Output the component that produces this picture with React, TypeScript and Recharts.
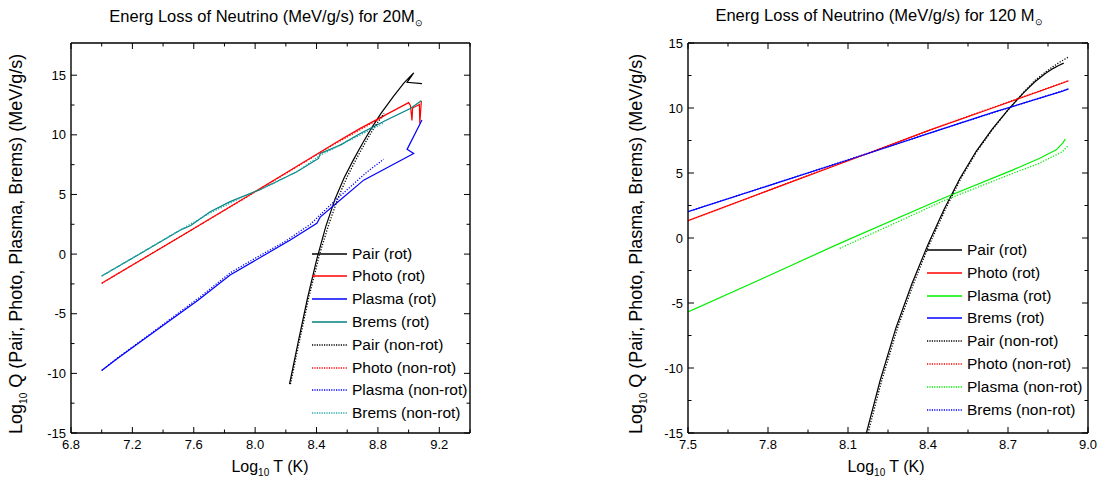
import React from "react"
import { Line, LineChart, XAxis, YAxis } from "recharts"

const FONT = '"Liberation Sans", Arial, Helvetica, sans-serif'

// ---- 20 Msun panel ----
const xTicks20 = [6.8, 7.0, 7.2, 7.4, 7.6, 7.8, 8.0, 8.2, 8.4, 8.6, 8.8, 9.0, 9.2, 9.4]
const xMajor20 = [6.8, 7.2, 7.6, 8.0, 8.4, 8.8, 9.2]
const yTicks20 = [-15, -12.5, -10, -7.5, -5, -2.5, 0, 2.5, 5, 7.5, 10, 12.5, 15]
const yMajor20 = [-15, -10, -5, 0, 5, 10, 15]

const pairRotT20 = [8.224, 8.28, 8.34, 8.4, 8.46, 8.52, 8.58, 8.64, 8.7, 8.76, 8.82, 8.9, 8.97, 9.033, 8.99, 9.087]
const pairRotQ20 = [-10.9, -7.4, -3.75, -0.5, 2.3, 4.6, 6.4, 7.9, 9.3, 10.6, 11.8, 13.2, 14.35, 15.2, 14.4, 14.3]
const photoRotT20 = [7.0, 7.511, 7.837, 8.2, 8.554, 8.685, 9.0, 9.012, 9.022, 9.026, 9.07, 9.073, 9.083]
const photoRotQ20 = [-2.45, 1.46, 3.97, 6.8, 9.56, 10.54, 12.7, 12.45, 11.2, 12.25, 12.55, 10.95, 12.85]
const plasmaRotT20 = [7.0, 7.098, 7.3, 7.63, 7.837, 8.229, 8.402, 8.424, 8.533, 8.707, 9.033, 8.99, 9.087]
const plasmaRotQ20 = [-9.76, -8.8, -6.9, -3.84, -1.75, 1.18, 2.58, 3.1, 4.3, 6.2, 8.44, 8.78, 11.25]
const bremsRotT20 = [7.0, 7.3, 7.511, 7.58, 7.707, 7.837, 8.03, 8.272, 8.413, 8.424, 8.554, 8.685, 8.85, 9.011, 9.083]
const bremsRotQ20 = [-1.83, 0.4, 2.0, 2.4, 3.55, 4.4, 5.4, 6.9, 8.02, 8.44, 9.14, 10.12, 11.2, 12.2, 12.85]
const pairNonT20 = [8.23, 8.29, 8.35, 8.42, 8.48, 8.54, 8.6, 8.66, 8.72, 8.78, 8.84]
const pairNonQ20 = [-10.9, -7.2, -3.6, 0, 2.5, 4.7, 6.5, 8.0, 9.4, 10.7, 11.8]
const photoNonT20 = [7.0, 7.5, 8.0, 8.5, 8.84]
const photoNonQ20 = [-2.45, 1.38, 5.2, 9.1, 11.55]
const plasmaNonT20 = [7.0, 7.098, 7.3, 7.63, 7.84, 8.0, 8.2, 8.36, 8.53, 8.73, 8.837]
const plasmaNonQ20 = [-9.76, -8.75, -6.85, -3.7, -1.55, -0.35, 1.1, 2.5, 4.6, 6.9, 7.95]
const bremsNonT20 = [7.0, 7.5, 7.7, 7.9, 8.1, 8.283, 8.42, 8.6, 8.84]
const bremsNonQ20 = [-1.85, 1.95, 3.4, 4.67, 5.8, 7.0, 8.25, 9.45, 11.0]

// ---- 120 Msun panel ----
const xTicks120 = [7.5, 7.65, 7.8, 7.95, 8.1, 8.25, 8.4, 8.55, 8.7, 8.85, 9.0]
const xMajor120 = [7.5, 7.8, 8.1, 8.4, 8.7, 9.0]
const yTicks120 = [-15, -12.5, -10, -7.5, -5, -2.5, 0, 2.5, 5, 7.5, 10, 12.5, 15]
const yMajor120 = [-15, -10, -5, 0, 5, 10, 15]

const pairRotT120 = [8.169, 8.22, 8.28, 8.34, 8.4, 8.46, 8.52, 8.58, 8.64, 8.7, 8.76, 8.8, 8.84, 8.87, 8.89, 8.909]
const pairRotQ120 = [-15, -11.0, -6.9, -3.5, -0.5, 2.2, 4.6, 6.65, 8.35, 9.85, 11.2, 12.0, 12.65, 13.05, 13.27, 13.45]
const photoRotT120 = [7.5, 7.8, 8.161, 8.406, 8.65, 8.905, 8.927]
const photoRotQ120 = [1.33, 3.64, 6.4, 8.3, 10.06, 11.92, 12.1]
const plasmaRotT120 = [7.5, 7.794, 8.069, 8.457, 8.719, 8.819, 8.881, 8.905, 8.915]
const plasmaRotQ120 = [-5.68, -2.98, -0.41, 3.06, 5.24, 6.14, 6.78, 7.3, 7.6]
const bremsRotT120 = [7.5, 7.8, 8.161, 8.406, 8.65, 8.905, 8.927]
const bremsRotQ120 = [2.03, 4.01, 6.4, 8.07, 9.7, 11.3, 11.47]
const pairNonT120 = [8.175, 8.226, 8.286, 8.346, 8.405, 8.465, 8.524, 8.583, 8.642, 8.7, 8.76, 8.8, 8.84, 8.87, 8.9, 8.927]
const pairNonQ120 = [-15, -11.0, -6.9, -3.5, -0.5, 2.2, 4.6, 6.65, 8.35, 9.85, 11.25, 12.1, 12.75, 13.2, 13.6, 13.92]
const photoNonT120 = [7.5, 8.0, 8.5, 8.927]
const photoNonQ120 = [1.33, 5.2, 9.0, 12.1]
const plasmaNonT120 = [8.069, 8.457, 8.719, 8.819, 8.905, 8.925]
const plasmaNonQ120 = [-0.8, 2.85, 4.98, 5.76, 6.65, 7.1]
const bremsNonT120 = [7.5, 8.0, 8.5, 8.927]
const bremsNonQ120 = [2.03, 5.35, 8.7, 11.47]

type Series = { name: string; t: number[]; q: number[]; color: string; dotted: boolean }

const series20: Series[] = [
    { name: "Pair (rot)", t: pairRotT20, q: pairRotQ20, color: "#000000", dotted: false },
    { name: "Photo (rot)", t: photoRotT20, q: photoRotQ20, color: "#ff0000", dotted: false },
    { name: "Plasma (rot)", t: plasmaRotT20, q: plasmaRotQ20, color: "#0000ff", dotted: false },
    { name: "Brems (rot)", t: bremsRotT20, q: bremsRotQ20, color: "#008080", dotted: false },
    { name: "Pair (non-rot)", t: pairNonT20, q: pairNonQ20, color: "#000000", dotted: true },
    { name: "Photo (non-rot)", t: photoNonT20, q: photoNonQ20, color: "#ff0000", dotted: true },
    { name: "Plasma (non-rot)", t: plasmaNonT20, q: plasmaNonQ20, color: "#0000ff", dotted: true },
    { name: "Brems (non-rot)", t: bremsNonT20, q: bremsNonQ20, color: "#20a8a8", dotted: true },
]

const series120: Series[] = [
    { name: "Pair (rot)", t: pairRotT120, q: pairRotQ120, color: "#000000", dotted: false },
    { name: "Photo (rot)", t: photoRotT120, q: photoRotQ120, color: "#ff0000", dotted: false },
    { name: "Plasma (rot)", t: plasmaRotT120, q: plasmaRotQ120, color: "#00ee00", dotted: false },
    { name: "Brems (rot)", t: bremsRotT120, q: bremsRotQ120, color: "#0000ff", dotted: false },
    { name: "Pair (non-rot)", t: pairNonT120, q: pairNonQ120, color: "#000000", dotted: true },
    { name: "Photo (non-rot)", t: photoNonT120, q: photoNonQ120, color: "#ff0000", dotted: true },
    { name: "Plasma (non-rot)", t: plasmaNonT120, q: plasmaNonQ120, color: "#00ee00", dotted: true },
    { name: "Brems (non-rot)", t: bremsNonT120, q: bremsNonQ120, color: "#0000ff", dotted: true },
]

const toRows = (t: number[], q: number[]) => t.map((v, i) => ({ t: v, q: q[i] }))
const isMajor = (majors: number[], v: number) => majors.some((m) => Math.abs(m - v) < 1e-6)

// ticks point inward, like Origin
function makeTick(side: string, majors: number[], fmt: (v: number) => string) {
    return (p: any) => {
        const { x, y, payload } = p
        const big = isMajor(majors, payload.value)
        const len = big ? 6 : 3.5
        const s = { stroke: "#000", strokeWidth: 1 }
        if (side === "bottom")
            return (
                <g>
                    <line x1={x} x2={x} y1={y} y2={y - len} {...s} />
                    {big && <text x={x} y={y + 16} textAnchor="middle" fontSize={13} fill="#000">{fmt(payload.value)}</text>}
                </g>
            )
        if (side === "top") return <line x1={x} x2={x} y1={y} y2={y + len} {...s} />
        if (side === "left")
            return (
                <g>
                    <line x1={x} x2={x + len} y1={y} y2={y} {...s} />
                    {big && <text x={x - 5} y={y + 4.5} textAnchor="end" fontSize={13} fill="#000">{fmt(payload.value)}</text>}
                </g>
            )
        return <line x1={x} x2={x - len} y1={y} y2={y} {...s} />
    }
}

type PanelProps = {
    left: number
    width: number
    margin: { top: number; right: number; bottom: number; left: number }
    xDomain: [number, number]
    yDomain: [number, number]
    xTicks: number[]
    xMajor: number[]
    yTicks: number[]
    yMajor: number[]
    series: Series[]
}

function Panel(props: PanelProps) {
    const { left, width, margin, xDomain, yDomain, xTicks, xMajor, yTicks, yMajor, series } = props
    const fx = (v: number) => v.toFixed(1)
    const fy = (v: number) => String(v)
    const axisLine = { stroke: "#000", strokeWidth: 1.4 }
    return (
        <div style={{ position: "absolute", left, top: 0 }}>
            <LineChart width={width} height={484} margin={margin} style={{ fontFamily: FONT }}>
                <XAxis xAxisId="b" dataKey="t" type="number" orientation="bottom" domain={xDomain} ticks={xTicks}
                    allowDataOverflow interval={0} height={30} tickSize={0} tickMargin={0} tickLine={false}
                    axisLine={axisLine} tick={makeTick("bottom", xMajor, fx)} />
                <XAxis xAxisId="t" dataKey="t" type="number" orientation="top" domain={xDomain} ticks={xTicks}
                    allowDataOverflow interval={0} height={10} tickSize={0} tickMargin={0} tickLine={false}
                    axisLine={axisLine} tick={makeTick("top", xMajor, fx)} />
                <YAxis yAxisId="l" type="number" orientation="left" domain={yDomain} ticks={yTicks}
                    allowDataOverflow interval={0} width={40} tickSize={0} tickMargin={0} tickLine={false}
                    axisLine={axisLine} tick={makeTick("left", yMajor, fy)} />
                <YAxis yAxisId="r" type="number" orientation="right" domain={yDomain} ticks={yTicks}
                    allowDataOverflow interval={0} width={10} tickSize={0} tickMargin={0} tickLine={false}
                    axisLine={axisLine} tick={makeTick("right", yMajor, fy)} />
                {series.map((s) => (
                    <Line key={s.name} xAxisId="b" yAxisId="l" data={toRows(s.t, s.q)} dataKey="q" type="linear"
                        stroke={s.color} strokeWidth={s.dotted ? 1.3 : 1.2} strokeDasharray={s.dotted ? "1.2 1.6" : undefined}
                        dot={false} activeDot={false} isAnimationActive={false} />
                ))}
            </LineChart>
        </div>
    )
}

function Legend({ x, y, series }: { x: number; y: number; series: Series[] }) {
    return (
        <div style={{ position: "absolute", left: x, top: y - 11.4 }}>
            {series.map((s) => (
                <div key={s.name} style={{ height: 22.8, display: "flex", alignItems: "center", fontSize: 15.5 }}>
                    <svg width={35} height={22} style={{ marginRight: 5 }}>
                        <line x1={0} x2={35} y1={11} y2={11} stroke={s.color} strokeWidth={1.3}
                            strokeDasharray={s.dotted ? "1.2 1.2" : undefined} />
                    </svg>
                    <span>{s.name}</span>
                </div>
            ))}
        </div>
    )
}

function Title({ cx, cy, size, children }: { cx: number; cy: number; size: number; children: React.ReactNode }) {
    return (
        <div style={{ position: "absolute", left: cx - 250, top: cy - 10, width: 500, lineHeight: "20px", textAlign: "center", fontSize: size, whiteSpace: "nowrap" }}>
            {children}
        </div>
    )
}

function YLabel({ cx, cy }: { cx: number; cy: number }) {
    return (
        <div style={{ position: "absolute", left: cx - 250, top: cy - 11, width: 500, lineHeight: "22px", textAlign: "center", fontSize: 18, whiteSpace: "nowrap", transform: "rotate(-90deg)" }}>
            Log<sub style={{ fontSize: 10 }}>10</sub> Q (Pair, Photo, Plasma, Brems) (MeV/g/s)
        </div>
    )
}

const sun = <sub style={{ fontSize: 9 }}>⊙</sub>

export default function App() {
    return (
        <div style={{ position: "absolute", left: 0, top: 0, width: 1109, height: 484, background: "#fff", fontFamily: FONT, color: "#000", overflow: "hidden" }}>
            <Panel left={0} width={550} margin={{ top: 33, right: 70, bottom: 21, left: 31 }}
                xDomain={[6.8, 9.4]} yDomain={[-15, 17.7]} xTicks={xTicks20} xMajor={xMajor20}
                yTicks={yTicks20} yMajor={yMajor20} series={series20} />
            <Panel left={550} width={559} margin={{ top: 33, right: 11, bottom: 21, left: 98 }}
                xDomain={[7.5, 9.0]} yDomain={[-15, 15]} xTicks={xTicks120} xMajor={xMajor120}
                yTicks={yTicks120} yMajor={yMajor120} series={series120} />

            <Title cx={266} cy={16} size={16.5}>Energ Loss of Neutrino (MeV/g/s) for 20M{sun}</Title>
            <Title cx={879} cy={15} size={16.5}>Energ Loss of Neutrino (MeV/g/s) for 120 M{sun}</Title>

            <Title cx={270} cy={467} size={16}>Log<sub style={{ fontSize: 10 }}>10</sub> T (K)</Title>
            <Title cx={886} cy={467} size={16}>Log<sub style={{ fontSize: 10 }}>10</sub> T (K)</Title>

            <YLabel cx={20} cy={240} />
            <YLabel cx={640} cy={240} />

            <Legend x={312} y={253.7} series={series20} />
            <Legend x={927} y={250} series={series120} />
        </div>
    )
}
